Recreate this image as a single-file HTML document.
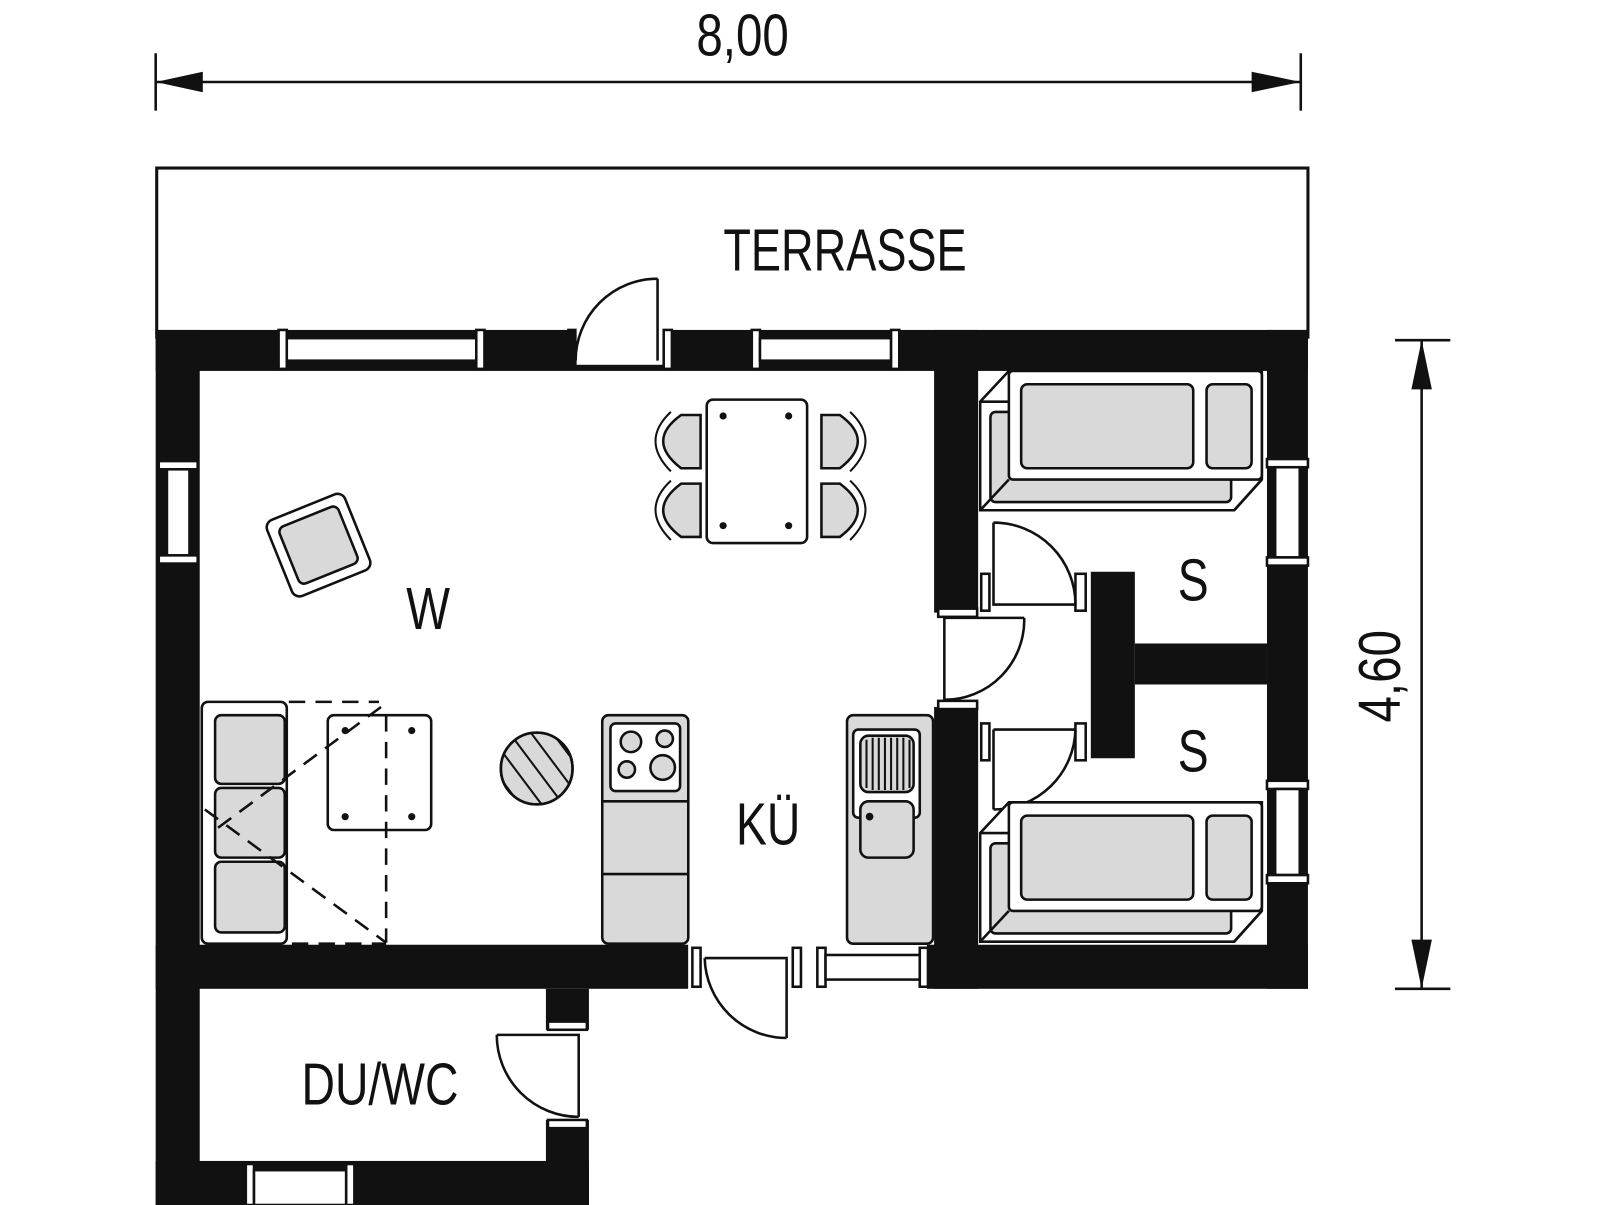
<!DOCTYPE html>
<html><head><meta charset="utf-8"><style>
html,body{margin:0;padding:0;background:#fff;width:1606px;height:1205px;overflow:hidden}
svg{display:block}
text{font-family:"Liberation Sans",sans-serif;fill:#111}
</style></head><body>
<svg width="1606" height="1205" viewBox="0 0 1568 1176" preserveAspectRatio="none" xmlns="http://www.w3.org/2000/svg">
<g stroke="#111" fill="none" stroke-width="2.5">
<line x1="152" y1="52" x2="152" y2="108"/><line x1="1270" y1="52" x2="1270" y2="108"/>
<line x1="152" y1="80" x2="1270" y2="80"/>
</g>
<polygon points="152,80 198,70 198,90" fill="#111"/>
<polygon points="1270,80 1222,70 1222,90" fill="#111"/>
<text x="725" y="54" font-size="58" text-anchor="middle" transform="translate(725 0) scale(0.8 1) translate(-725 0)">8,00</text>
<g stroke="#111" stroke-width="2.5">
<line x1="1362" y1="332" x2="1416" y2="332"/><line x1="1362" y1="965" x2="1416" y2="965"/>
<line x1="1388" y1="332" x2="1388" y2="965"/></g>
<polygon points="1388,332 1378,380 1398,380" fill="#111"/>
<polygon points="1388,965 1378,917 1398,917" fill="#111"/>
<text x="0" y="0" font-size="58" text-anchor="middle" transform="translate(1367 660) rotate(-90) scale(0.8 1)">4,60</text>

<rect x="153" y="164" width="1124" height="165" fill="none" stroke="#111" stroke-width="3"/>
<text x="825" y="264" font-size="58" text-anchor="middle" transform="translate(825 0) scale(0.76 1) translate(-825 0)">TERRASSE</text>

<g fill="#111">
<rect x="152" y="322" width="1125" height="40"/>
<rect x="152" y="322" width="43" height="854"/>
<rect x="1237" y="322" width="40" height="643"/>
<rect x="152" y="922" width="520" height="43"/>
<rect x="905" y="922" width="372" height="43"/>
<rect x="912" y="322" width="43" height="276"/>
<rect x="912" y="690" width="43" height="275"/>
<rect x="1065" y="558" width="43" height="182"/>
<rect x="1108" y="628" width="129" height="40"/>
<rect x="533" y="965" width="42" height="40"/>
<rect x="533" y="1093" width="42" height="83"/>
<rect x="152" y="1133" width="423" height="43"/>
</g>
<g fill="#fff" stroke="#111" stroke-width="2.5">
<rect x="272" y="322" width="8" height="38"/><rect x="280" y="330" width="185" height="22"/><rect x="465" y="322" width="8" height="38"/>
<rect x="555" y="322" width="8" height="30" fill="#111"/>
<rect x="563" y="316" width="85" height="40" stroke="none"/>
<rect x="648" y="322" width="8" height="38"/><rect x="734" y="322" width="8" height="38"/>
<rect x="742" y="330" width="128" height="22"/><rect x="870" y="322" width="8" height="38"/>
<rect x="155" y="450" width="38" height="8"/><rect x="163" y="458" width="22" height="84"/><rect x="155" y="542" width="38" height="8"/>
<rect x="1237" y="448" width="40" height="8"/><rect x="1245" y="456" width="24" height="88"/><rect x="1237" y="544" width="40" height="8"/>
<rect x="1237" y="762" width="40" height="8"/><rect x="1245" y="770" width="24" height="84"/><rect x="1237" y="854" width="40" height="8"/>
<rect x="672" y="918" width="100" height="50" stroke="none"/>
<rect x="676" y="925" width="8" height="38"/><rect x="774" y="925" width="8" height="38"/>
<rect x="798" y="925" width="8" height="38"/><rect x="806" y="932" width="92" height="24"/><rect x="898" y="925" width="8" height="38"/>
<rect x="910" y="598" width="48" height="92" stroke="none"/>
<rect x="916" y="594" width="38" height="8"/><rect x="916" y="684" width="38" height="8"/>
<rect x="958" y="560" width="8" height="36"/><rect x="1050" y="560" width="10" height="36"/>
<rect x="958" y="706" width="8" height="36"/><rect x="1050" y="706" width="10" height="36"/>
<rect x="535" y="997" width="38" height="8"/><rect x="535" y="1093" width="38" height="8"/>
<rect x="240" y="1136" width="8" height="40"/><rect x="248" y="1142" width="90" height="34"/><rect x="338" y="1136" width="8" height="40"/>
</g>

<g fill="none" stroke="#111" stroke-width="2.5">
<path d="M642 272 L642 352 M642 272 A80 80 0 0 0 562 352"/>
<path d="M970 510 L970 590 L1050 590 M970 510 A80 80 0 0 1 1050 590"/>
<path d="M922 603 L1000 603 M922 603 L922 683 M1000 603 A78 78 0 0 1 922 683"/>
<path d="M970 712 L1050 712 M970 712 L970 790 M1050 712 A80 80 0 0 1 970 790"/>
<path d="M688 935 L768 935 L768 1013 M688 935 A80 80 0 0 0 768 1013"/>
<path d="M485 1010 L565 1010 L565 1090 M485 1010 A80 80 0 0 0 565 1090"/>
</g>

<g stroke="#111" stroke-width="2.5">
<rect x="690" y="390" width="98" height="140" rx="6" fill="#fff"/>
<g fill="#111" stroke="none"><circle cx="706" cy="406" r="3.5"/><circle cx="770" cy="406" r="3.5"/><circle cx="706" cy="513" r="3.5"/><circle cx="770" cy="513" r="3.5"/></g>
<g fill="#d9d9d9">
<path d="M684 405 L665 405 Q630 430 665 457 L684 457 Z"/>
<path d="M684 472 L665 472 Q630 498 665 524 L684 524 Z"/>
<path d="M802 405 L820 405 Q855 430 820 457 L802 457 Z"/>
<path d="M802 472 L820 472 Q855 498 820 524 L802 524 Z"/>
</g>
<g fill="none" stroke-width="2">
<path d="M655 402 Q625 430 655 460"/><path d="M655 469 Q625 497 655 527"/>
<path d="M830 402 Q860 430 830 460"/><path d="M830 469 Q860 497 830 527"/>
</g>
<g transform="rotate(-22 311 532)">
<rect x="270" y="492" width="82" height="80" rx="8" fill="#fff"/>
<rect x="280" y="502" width="62" height="60" rx="6" fill="#d9d9d9"/>
</g>
<rect x="197" y="685" width="83" height="236" rx="6" fill="#fff"/>
<rect x="210" y="698" width="68" height="67" rx="6" fill="#d9d9d9"/>
<rect x="210" y="769" width="68" height="68" rx="6" fill="#d9d9d9"/>
<rect x="210" y="841" width="68" height="69" rx="6" fill="#d9d9d9"/>
<g fill="none" stroke-dasharray="16 10">
<path d="M282 685 L370 685"/><path d="M377 698 L377 920"/><path d="M285 921 L377 921"/>
<path d="M372 690 L210 810"/><path d="M200 790 L377 920"/>
</g>
<rect x="320" y="698" width="101" height="112" rx="6" fill="none"/>
<g fill="#111" stroke="none"><circle cx="337" cy="713" r="3.5"/><circle cx="402" cy="713" r="3.5"/><circle cx="337" cy="797" r="3.5"/><circle cx="402" cy="797" r="3.5"/></g>
<clipPath id="c"><circle cx="524" cy="750" r="35"/></clipPath>
<circle cx="524" cy="750" r="35" fill="#d9d9d9"/>
<g clip-path="url(#c)" stroke-width="2"><path d="M480 720 L540 800 M495 712 L555 792 M510 704 L570 784 M470 735 L530 815 M460 748 L520 828 M525 696 L585 776"/></g>
<circle cx="524" cy="750" r="35" fill="none"/>
<rect x="588" y="698" width="84" height="223" rx="6" fill="#d9d9d9"/>
<rect x="596" y="706" width="68" height="66" rx="5" fill="#fff"/>
<circle cx="616" cy="724" r="10" fill="#d9d9d9"/><circle cx="649" cy="721" r="8" fill="#d9d9d9"/>
<circle cx="612" cy="751" r="8" fill="#d9d9d9"/><circle cx="647" cy="749" r="12" fill="#d9d9d9"/>
<line x1="588" y1="782" x2="672" y2="782"/><line x1="588" y1="853" x2="672" y2="853"/>
<rect x="827" y="698" width="84" height="223" rx="6" fill="#d9d9d9"/>
<rect x="833" y="712" width="65" height="86" rx="5" fill="#fff"/>
<rect x="840" y="718" width="52" height="55" rx="8" fill="#d9d9d9"/>
<g stroke-width="2"><path d="M846 722V769M852 720V771M858 720V771M864 720V771M870 720V771M876 720V771M882 720V771M888 722V769"/></g>
<rect x="840" y="782" width="52" height="55" rx="8" fill="#d9d9d9"/>
<circle cx="849" cy="797" r="2.5" fill="#111"/>
</g>

<g stroke="#111" stroke-width="2.5">
<g id="bed">
<polygon points="957,392 985,362 1232,362 1232,468 1205,498 957,498" fill="#fff"/>
<rect x="967" y="402" width="235" height="88" rx="5" fill="#d9d9d9"/>
<path d="M957 392 L985 392 M957 498 L985 468 M1232 468 L1205 498" fill="none"/>
<rect x="985" y="362" width="247" height="106" rx="4" fill="#fff"/>
<rect x="997" y="375" width="168" height="82" rx="6" fill="#d9d9d9"/>
<rect x="1178" y="375" width="44" height="82" rx="6" fill="#d9d9d9"/>
</g>
<use href="#bed" transform="translate(0 421)"/>
</g>

<g font-size="58" text-anchor="middle">
<text x="418" y="614" transform="translate(418 0) scale(0.78 1) translate(-418 0)">W</text>
<text x="750" y="824" transform="translate(750 0) scale(0.78 1) translate(-750 0)">KÜ</text>
<text x="1165" y="586" transform="translate(1165 0) scale(0.78 1) translate(-1165 0)">S</text>
<text x="1165" y="753" transform="translate(1165 0) scale(0.78 1) translate(-1165 0)">S</text>
<text x="371" y="1078" transform="translate(371 0) scale(0.78 1) translate(-371 0)">DU/WC</text>
</g>
</svg>
</body></html>
